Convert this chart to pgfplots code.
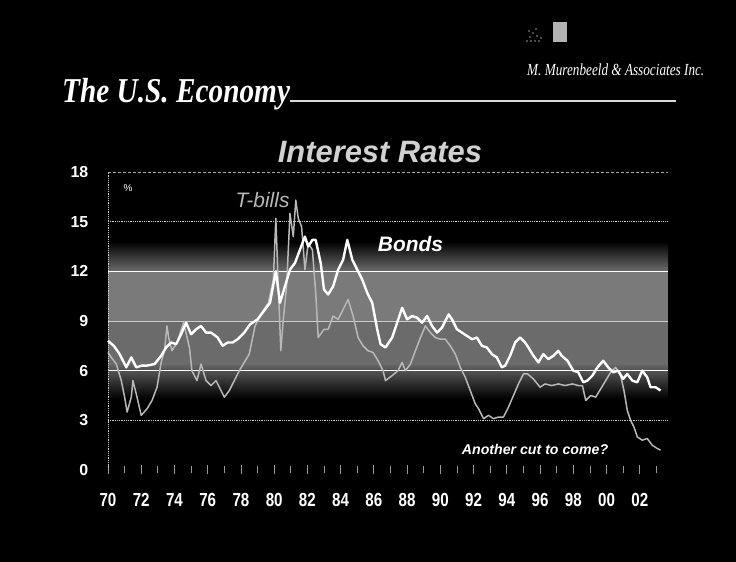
\documentclass[border=0pt]{standalone}
\usepackage{fontspec}
\setmainfont{Liberation Sans}
\newfontfamily\ttlserif[FakeStretch=0.84]{Liberation Serif}
\newfontfamily\smallserif[FakeStretch=0.78]{Liberation Serif}
\newfontfamily\narrow[FakeStretch=0.8]{Liberation Sans}
\usepackage{pgfplots}
\pgfplotsset{compat=1.18}

\pgfplotstableread{
year rate
1970.0 7.8
1970.35 7.5
1970.7 7.0
1971.1 6.2
1971.4 6.8
1971.7 6.2
1972.0 6.3
1972.3 6.3
1972.8 6.4
1973.2 6.9
1973.5 7.4
1973.8 7.7
1974.1 7.6
1974.4 8.2
1974.7 8.9
1975.0 8.2
1975.3 8.5
1975.6 8.7
1975.9 8.3
1976.2 8.3
1976.6 8.0
1976.9 7.5
1977.2 7.7
1977.5 7.7
1977.8 7.9
1978.2 8.3
1978.55 8.8
1979.0 9.1
1979.45 9.7
1979.75 10.1
1980.1 12.0
1980.35 10.1
1980.65 11.1
1980.95 12.1
1981.25 12.5
1981.55 13.3
1981.85 14.1
1982.05 13.5
1982.3 13.9
1982.5 13.9
1982.8 12.5
1983.0 10.9
1983.25 10.6
1983.55 11.1
1983.85 12.1
1984.15 12.7
1984.4 13.9
1984.7 12.7
1985.0 12.1
1985.3 11.5
1985.6 10.7
1985.9 10.1
1986.2 8.5
1986.4 7.6
1986.7 7.4
1987.1 8.0
1987.4 8.9
1987.7 9.8
1988.0 9.1
1988.3 9.3
1988.6 9.2
1988.9 8.9
1989.2 9.3
1989.5 8.7
1989.8 8.3
1990.1 8.6
1990.5 9.4
1990.7 9.1
1991.0 8.5
1991.3 8.3
1991.6 8.1
1991.9 7.9
1992.2 8.0
1992.5 7.5
1992.8 7.4
1993.1 7.0
1993.4 6.8
1993.7 6.2
1993.9 6.3
1994.2 6.9
1994.5 7.7
1994.8 8.0
1995.1 7.7
1995.3 7.4
1995.6 6.9
1995.9 6.5
1996.2 7.0
1996.5 6.7
1996.8 6.9
1997.1 7.2
1997.3 6.9
1997.65 6.6
1998.0 6.0
1998.3 5.9
1998.6 5.3
1998.85 5.4
1999.15 5.7
1999.45 6.2
1999.8 6.6
2000.1 6.2
2000.4 5.9
2000.7 6.0
2001.0 5.5
2001.25 5.8
2001.55 5.4
2001.85 5.3
2002.15 6.0
2002.45 5.6
2002.65 5.0
2002.95 5.0
2003.25 4.8
}\bonds

\pgfplotstableread{
year rate
1970.0 7.1
1970.2 6.8
1970.5 6.4
1970.8 5.4
1971.0 4.4
1971.15 3.5
1971.4 4.4
1971.5 5.4
1971.7 4.6
1972.0 3.3
1972.35 3.7
1972.65 4.2
1972.95 5.0
1973.2 6.5
1973.4 7.2
1973.55 8.7
1973.65 8.0
1973.85 7.2
1974.15 7.7
1974.55 8.9
1974.9 7.4
1975.05 6.0
1975.35 5.4
1975.6 6.4
1975.9 5.4
1976.2 5.1
1976.5 5.4
1976.8 4.8
1977.0 4.4
1977.3 4.8
1977.6 5.4
1977.9 6.0
1978.2 6.5
1978.5 7.0
1978.85 8.7
1979.25 9.5
1979.65 10.1
1979.95 11.5
1980.1 15.2
1980.25 11.1
1980.4 7.2
1980.55 9.1
1980.75 11.1
1980.95 15.5
1981.15 14.1
1981.3 16.3
1981.45 15.2
1981.65 14.7
1981.85 12.1
1982.05 13.7
1982.3 13.3
1982.5 10.7
1982.65 8.0
1983.0 8.5
1983.25 8.5
1983.55 9.3
1983.85 9.1
1984.15 9.7
1984.45 10.3
1984.75 9.3
1985.05 8.0
1985.35 7.5
1985.65 7.2
1985.95 7.1
1986.25 6.6
1986.55 6.0
1986.7 5.4
1987.1 5.7
1987.45 6.0
1987.7 6.5
1987.9 6.0
1988.2 6.4
1988.5 7.2
1988.8 8.0
1989.1 8.7
1989.4 8.3
1989.7 8.0
1990.0 7.9
1990.3 7.9
1990.6 7.5
1990.9 7.0
1991.2 6.2
1991.5 5.6
1991.8 4.8
1992.1 4.0
1992.3 3.7
1992.6 3.1
1992.9 3.3
1993.2 3.1
1993.5 3.2
1993.8 3.2
1994.1 3.8
1994.4 4.5
1994.7 5.2
1995.0 5.8
1995.25 5.8
1995.6 5.5
1996.0 5.0
1996.3 5.2
1996.7 5.1
1997.1 5.2
1997.5 5.1
1997.95 5.2
1998.3 5.1
1998.55 5.1
1998.75 4.2
1999.05 4.5
1999.35 4.4
1999.65 4.9
1999.95 5.4
2000.25 5.9
2000.55 6.2
2000.85 5.7
2001.05 4.8
2001.25 3.6
2001.45 3.0
2001.65 2.6
2001.85 2.0
2002.15 1.8
2002.45 1.9
2002.75 1.5
2003.05 1.3
2003.25 1.2
}\tbills

\begin{document}
\begin{tikzpicture}
\fill[black] (0bp,0bp) rectangle (736bp,562bp);
\useasboundingbox (0bp,0bp) rectangle (736bp,562bp);
% header
\node[anchor=base west, text=white, inner sep=0pt,
      font=\ttlserif\bfseries\itshape\fontsize{35}{35}\selectfont]
      at (62bp,459bp) {The U.S. Economy};
\draw[white!85!black, line width=1.3bp] (290bp,461bp) -- (676bp,461bp);
\node[anchor=base west, text=white, inner sep=0pt,
      font=\smallserif\itshape\fontsize{17}{17}\selectfont]
      at (527bp,486bp) {M. Murenbeeld \& Associates Inc.};
\fill[white!70!black] (553bp,520bp) rectangle (567bp,540bp);
\foreach \dx/\dy in {0/0,3/4,6/8,9/12,4/0,8/0,12/0,10/5,2/10,14/3}
  \fill[white!60!black] ({527bp+\dx bp},{521bp+\dy bp}) circle (0.8bp);
% chart title
\node[text=white!82!black, inner sep=0pt,
      font=\bfseries\itshape\fontsize{31}{31}\selectfont]
      at (380bp,410bp) {Interest Rates};

\begin{axis}[
  at={(108bp,92bp)}, anchor=south west,
  scale only axis, width=560bp, height=298bp,
  xmin=1970, xmax=2003.7, ymin=0, ymax=18,
  axis line style={draw=none},
  clip=false,
  /pgf/number format/assume math mode=true,
  xtick={1970,1972,...,2002},
  xticklabels={70,72,74,76,78,80,82,84,86,88,90,92,94,96,98,00,02},
  minor xtick={1971,1973,...,2003},
  ytick={0,3,...,18},
  major y tick style={draw=none},
  x tick style={white!60!black, line width=0.8bp},
  major tick length=9bp, minor tick length=7bp,
  tick align=center,
  xtick pos=bottom,
  xticklabel style={font=\narrow\bfseries\fontsize{19}{19}\selectfont, text=white,
                    anchor=north, inner sep=0pt, yshift=-19bp},
  yticklabel style={font=\bfseries\fontsize{16}{16}\selectfont, text=white,
                    anchor=east, inner sep=0pt, xshift=-15bp},
]
% background halftone bands
\shade[top color=black, bottom color=black!58] (axis cs:1970,13.8) rectangle (axis cs:2003.7,12);
\fill[black!52] (axis cs:1970,12) rectangle (axis cs:2003.7,9);
\fill[black!58] (axis cs:1970,9) rectangle (axis cs:2003.7,6.3);
\shade[top color=black!62, bottom color=black] (axis cs:1970,6.3) rectangle (axis cs:2003.7,4.3);
% grid lines
\draw[white!65!black, densely dashed, line width=0.7bp] (axis cs:1970,18) -- (axis cs:2003.7,18);
\draw[white!80!black, densely dotted, line width=0.8bp] (axis cs:1970,15) -- (axis cs:2003.7,15);
\draw[white, line width=1bp] (axis cs:1970,12) -- (axis cs:2003.7,12);
\draw[white!80!black, line width=0.8bp] (axis cs:1970,9) -- (axis cs:2003.7,9);
\draw[white, line width=1bp] (axis cs:1970,6) -- (axis cs:2003.7,6);
\draw[white!80!black, densely dotted, line width=0.8bp] (axis cs:1970,3) -- (axis cs:2003.7,3);
\draw[white!80!black, densely dotted, line width=0.8bp] (axis cs:1970,0) -- (axis cs:1970,18);
% series
\addplot[white!72!black, line width=1.5bp, line join=round] table[x=year,y=rate] {\tbills};
\addplot[white, line width=2.4bp, line join=round] table[x=year,y=rate] {\bonds};
% labels
\node[text=white, font=\fontsize{10}{10}\selectfont] at (axis cs:1971.2,17.0) {\%};
\node[text=white!72!black, font=\itshape\fontsize{21}{21}\selectfont] at (axis cs:1979.3,16.3) {T-bills};
\node[text=white, font=\bfseries\itshape\fontsize{21}{21}\selectfont] at (axis cs:1988.2,13.65) {Bonds};
\node[text=white, font=\bfseries\itshape\fontsize{14.2}{14.2}\selectfont] at (axis cs:1995.7,1.27) {Another cut to come?};
\end{axis}
\end{tikzpicture}
\end{document}
